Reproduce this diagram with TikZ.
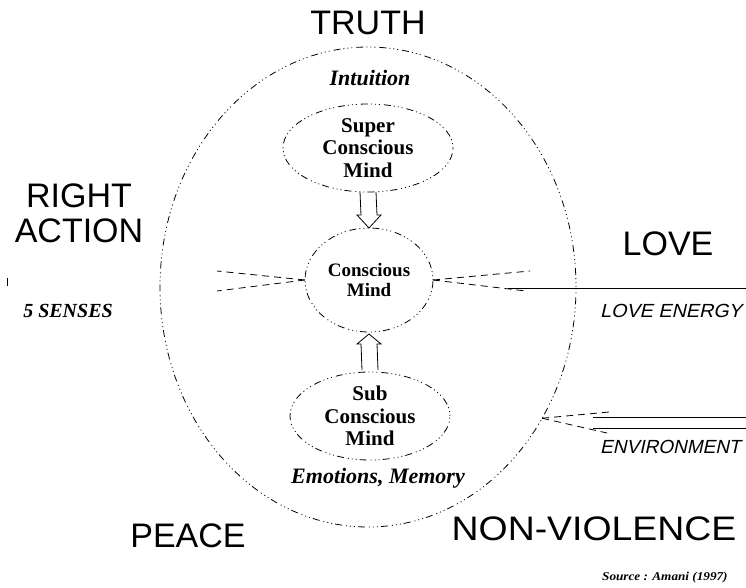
\documentclass[tikz,border=0pt]{standalone}
\usepackage{fontspec}
\usepackage{graphicx}
\setmainfont{Liberation Serif}
\setsansfont{Liberation Sans}
\newfontfamily\sideslant[FakeSlant=0.22]{Liberation Sans}
\usetikzlibrary{shapes.geometric,calc}
\begin{document}
\begin{tikzpicture}[x=1pt,y=-1pt,
  dotdash/.style={dash pattern=on 1pt off 3pt on 1pt off 3pt on 1pt off 3pt on 7pt off 4pt},
  mind/.style={ellipse, draw, line width=0.8pt, dotdash, inner sep=0pt, outer sep=0pt},
  big/.style={font=\sffamily\fontsize{34}{35}\selectfont, inner sep=0pt, anchor=base},
  mindtext/.style={font=\bfseries\fontsize{21}{22.5}\selectfont, align=center, inner sep=0pt},
  note/.style={font=\bfseries\itshape\fontsize{22}{24}\selectfont, inner sep=0pt, anchor=base},
  sidenote/.style={font=\sideslant\fontsize{19}{21}\selectfont, inner sep=0pt, anchor=base west},
  link/.style={line width=0.8pt, dash pattern=on 7pt off 5pt},
  wire/.style={line width=1pt},
  hollow/.style={line width=0.8pt}]

\useasboundingbox (0,0) rectangle (746,588);

% ellipses
\node[mind, minimum width=416pt, minimum height=480pt] (outer) at (368,287) {};
\node[mind, minimum width=170pt, minimum height=88pt] (super) at (368,148) {};
\node[mind, minimum width=128pt, minimum height=104pt] (conscious) at (369,280) {};
\node[mind, minimum width=160pt, minimum height=88pt] (sub) at (370,416) {};

% ellipse texts
\node[mindtext] (supert) at (super.center) {Super\\Conscious\\Mind};
\node[mindtext, font=\bfseries\fontsize{19}{20}\selectfont] (consciot) at (conscious.center) {Conscious\\Mind};
\node[mindtext] (subt) at (sub.center) {Sub\\Conscious\\Mind};

% big labels
\node[big] (truth) at (368,35) {TRUTH};
\node[big, align=center] (right) at (79,242) {RIGHT\\ACTION};
\node[big] (love) at (668,255) {LOVE};
\node[big] (peace) at (188,547) {PEACE};
\node[big] (nonv) at (594,540) {\scalebox{1.1}[1]{NON-VIOLENCE}};

% small labels
\node[note] (intu) at (370,86) {Intuition};
\node[note] (emo) at (378,483) {Emotions, Memory};
\node[note, font=\bfseries\itshape\fontsize{20}{22}\selectfont] (senses) at (68,317) {5 SENSES};
\node[sidenote] (lenergy) at (600,317) {\scalebox{1.04}[1]{LOVE ENERGY}};
\node[sidenote] (env) at (600,453) {ENVIRONMENT};
\node[inner sep=0pt, anchor=base west, font=\bfseries\itshape\fontsize{12}{13}\selectfont] (src) at (602,580) {\scalebox{1.1}[1]{Source : Amani (1997)}};

% hollow arrows
\draw[hollow] ($(super.south)+(-8,0)$) -- ($(conscious.north)+(-8,-13)$) -- ++(-4,0)
  -- (conscious.north) -- ($(conscious.north)+(12,-13)$) -- ++(-4,0) -- ($(super.south)+(8,0)$);
\draw[hollow] ($(sub.north)+(-8,-2)$) -- ($(conscious.south)+(-8,12)$) -- ++(-4,0)
  -- ($(conscious.south)+(0,2)$) -- ($(conscious.south)+(12,12)$) -- ++(-4,0) -- ($(sub.north)+(8,-2)$);

% left connectors (senses)
\coordinate (l1) at (217,271);
\coordinate (l2) at (217,291);
\draw[link] (conscious.west) -- (l1);
\draw[link] (conscious.west) -- (l2);

% right connectors (love energy)
\coordinate (r1) at (530,271);
\coordinate (r2) at (526,291);
\coordinate (r3) at (508,288);
\coordinate (r4) at (746,288);
\draw[link] (conscious.east) -- (r1);
\draw[link] (conscious.east) -- (r2);
\draw[wire] (r3) -- (r4);

% environment connectors
\coordinate (e1) at (609,412);
\coordinate (e2) at (607,433);
\coordinate (e3) at (593,417);
\coordinate (e4) at (746,417);
\coordinate (e5) at (593,428);
\coordinate (e6) at (746,428);
\draw[link] (outer.-37) -- (e1);
\draw[link] (outer.-37) -- (e2);
\draw[wire] (e3) -- (e4);
\draw[wire] (e5) -- (e6);

% small tick at left edge
\draw[line width=0.8pt] (7,278) -- (7,286);
\end{tikzpicture}
\end{document}
